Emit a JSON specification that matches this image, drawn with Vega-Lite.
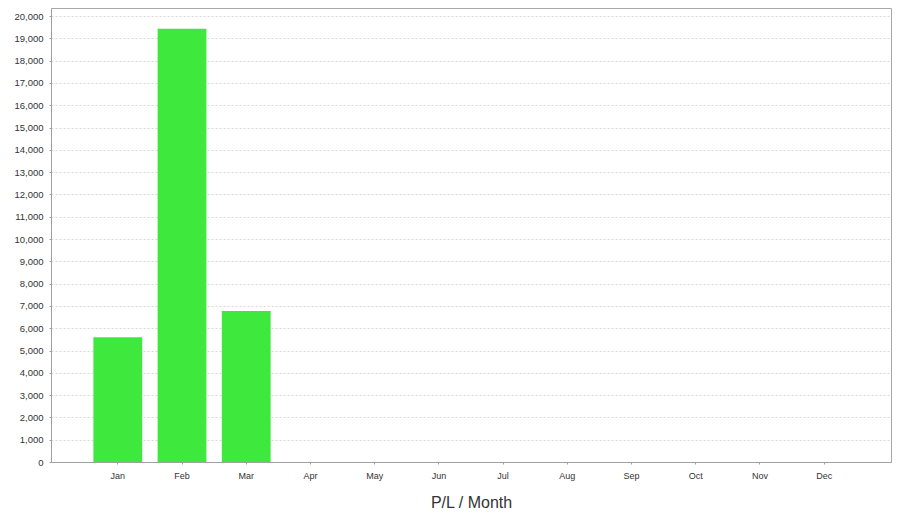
{
  "$schema": "https://vega.github.io/schema/vega-lite/v6.json",
  "autosize": "none",
  "width": 840,
  "height": 454,
  "padding": {"left": 51, "top": 8, "right": 9, "bottom": 57},
  "background": "#ffffff",
  "data": {
    "values": [
      {"month": "Jan", "pl": 5590},
      {"month": "Feb", "pl": 19430},
      {"month": "Mar", "pl": 6770},
      {"month": "Apr", "pl": 0},
      {"month": "May", "pl": 0},
      {"month": "Jun", "pl": 0},
      {"month": "Jul", "pl": 0},
      {"month": "Aug", "pl": 0},
      {"month": "Sep", "pl": 0},
      {"month": "Oct", "pl": 0},
      {"month": "Nov", "pl": 0},
      {"month": "Dec", "pl": 0}
    ]
  },
  "mark": {"type": "bar", "color": "#3ee83c"},
  "encoding": {
    "x": {
      "field": "month",
      "type": "nominal",
      "sort": null,
      "scale": {"paddingInner": 0.24, "paddingOuter": 0.66},
      "axis": {
        "title": "P/L / Month",
        "titleFont": "Liberation Sans",
        "titleFontSize": 16,
        "titleFontWeight": "normal",
        "titleColor": "#333333",
        "titlePadding": 14,
        "labelFont": "Liberation Sans",
        "labelFontSize": 9,
        "labelColor": "#333333",
        "labelAngle": 0,
        "labelPadding": 7,
        "tickSize": 2,
        "tickColor": "#a0a0a0",
        "domainColor": "#a0a0a0",
        "grid": false
      }
    },
    "y": {
      "field": "pl",
      "type": "quantitative",
      "scale": {"domain": [0, 20360], "nice": false},
      "axis": {
        "title": null,
        "values": [0,1000,2000,3000,4000,5000,6000,7000,8000,9000,10000,11000,12000,13000,14000,15000,16000,17000,18000,19000,20000],
        "format": ",d",
        "labelFont": "Liberation Sans",
        "labelFontSize": 9.5,
        "labelColor": "#333333",
        "labelPadding": 6,
        "tickSize": 2,
        "tickColor": "#a0a0a0",
        "domainColor": "#a0a0a0",
        "grid": true,
        "gridColor": "#d8d8d8",
        "gridDash": [2, 2]
      }
    }
  },
  "config": {
    "view": {"stroke": "#a8a8a8", "strokeWidth": 1}
  }
}
